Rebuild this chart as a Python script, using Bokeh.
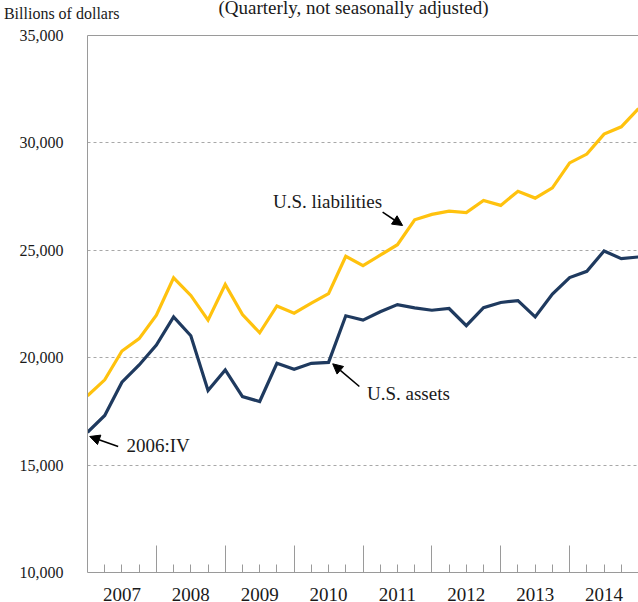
from bokeh.plotting import figure
from bokeh.layouts import column
from bokeh.models import (Range1d, FixedTicker, NumeralTickFormatter, Label, Arrow,
                          NormalHead, LinearAxis)
from bokeh.core.properties import value
from bokeh.embed import file_html
from bokeh.resources import INLINE

# ---- data ----
years = ["2007", "2008", "2009", "2010", "2011", "2012", "2013", "2014"]
quarters = ["2006:IV"] + [f"{y}:{q}" for y in years for q in ["I", "II", "III", "IV"]]

us_assets = [16530, 17310, 18860, 19660, 20590, 21900, 21020, 18470, 19430,
             18190, 17960, 19740, 19460, 19740, 19780, 21950, 21750, 22140,
             22470, 22320, 22210, 22290, 21490, 22330, 22570, 22660, 21900,
             22960, 23730, 24020, 24970, 24610, 24690]
us_liabilities = [18230, 18970, 20310, 20890, 21980, 23720, 22900, 21750, 23410,
                  22010, 21160, 22410, 22070, 22540, 22980, 24720, 24290, 24770,
                  25260, 26420, 26670, 26820, 26760, 27320, 27090, 27750, 27430,
                  27910, 29070, 29480, 30410, 30750, 31600]
y_ticks = [10000, 15000, 20000, 25000, 30000, 35000]

# ---- derived positions (quarter index since 2006:IV) ----
xq = list(range(len(quarters)))
n_q = 4 * len(years)
year_bounds = [4 * (i + 1) for i in range(len(years) - 1)]
quarter_bounds = [q for q in range(1, n_q) if q % 4 != 0]
year_centers = [4 * i + 2 for i in range(len(years))]

W = 638
LEFT = 86
HEAD_H = 24
TOP = 35 - HEAD_H
FRAME_H = 537
MAIN_BOTTOM = 10
FOOT_H = 602 - HEAD_H - TOP - FRAME_H - MAIN_BOTTOM
SERIF = "Liberation Serif"
AXIS_GRAY = "#9a9a9a"
TEXT = "#1a1a1a"
GOLD = "#FFC20E"
NAVY = "#1F3A5F"


def strip(height, x_range, y_range):
    f = figure(width=W, height=height, output_backend="svg", toolbar_location=None,
               x_range=x_range, y_range=y_range, x_axis_location=None,
               y_axis_location=None, min_border_left=LEFT, min_border_right=0,
               min_border_top=0, min_border_bottom=0, outline_line_color=None,
               background_fill_color="white", border_fill_color="white")
    f.grid.visible = False
    return f


# ---- header: unit note (as a left-axis label) and subtitle ----
head = strip(HEAD_H, Range1d(LEFT, W), Range1d(HEAD_H, 0))
unit_axis = LinearAxis(ticker=FixedTicker(ticks=[13.3]),
                       major_label_overrides={13.3: "Billions of dollars"},
                       major_label_standoff=-38, axis_line_color=None,
                       major_tick_line_color=None, minor_tick_line_color=None,
                       major_label_text_font=SERIF,
                       major_label_text_font_size="16px",
                       major_label_text_color=TEXT)
head.add_layout(unit_axis, "left")
head.text(x=[352.5], y=[7], text=["(Quarterly, not seasonally adjusted)"],
          text_align="center", text_baseline="middle", text_font=value(SERIF),
          text_font_size="19px", text_color=TEXT)

# ---- main plot ----
p = figure(width=W, height=TOP + FRAME_H + MAIN_BOTTOM, output_backend="svg",
           toolbar_location=None,
           x_range=Range1d(0, n_q), y_range=Range1d(10000, 35000),
           min_border_left=LEFT, min_border_right=0, min_border_top=TOP,
           min_border_bottom=MAIN_BOTTOM, outline_line_color=None,
           background_fill_color="white", border_fill_color="white")

xa = p.xaxis[0]
xa.ticker = FixedTicker(ticks=year_bounds, minor_ticks=quarter_bounds)
xa.major_label_overrides = {t: "" for t in year_bounds}
xa.major_label_text_font_size = "0px"
xa.major_label_standoff = 0
xa.major_tick_in = 27
xa.major_tick_out = 0
xa.minor_tick_in = 8
xa.minor_tick_out = 0
xa.axis_line_color = AXIS_GRAY
xa.major_tick_line_color = AXIS_GRAY
xa.minor_tick_line_color = AXIS_GRAY
p.xgrid.grid_line_color = None

ya = p.yaxis[0]
ya.ticker = FixedTicker(ticks=y_ticks)
ya.formatter = NumeralTickFormatter(format="0,0")
ya.major_tick_in = 0
ya.major_tick_out = 0
ya.minor_tick_line_color = None
ya.major_label_standoff = 24
ya.major_label_text_font = SERIF
ya.major_label_text_font_size = "16px"
ya.major_label_text_color = TEXT
ya.axis_line_color = AXIS_GRAY
p.ygrid.ticker = FixedTicker(ticks=y_ticks[1:-1])
p.ygrid.grid_line_dash = "3 3"
p.ygrid.grid_line_color = "#a8a8a8"
p.ygrid.grid_line_width = 1

top = LinearAxis(axis_line_color=AXIS_GRAY, major_tick_line_color=None,
                 minor_tick_line_color=None, major_label_text_font_size="0px",
                 major_label_standoff=0, ticker=FixedTicker(ticks=[]))
p.add_layout(top, "above")

p.line(xq, us_liabilities, line_color=GOLD, line_width=3.2, line_join="miter")
p.line(xq, us_assets, line_color=NAVY, line_width=3.2, line_join="miter")


def note(x, y, txt):
    p.add_layout(Label(x=x, y=y, text=txt, text_align="left",
                       text_baseline="middle", text_font=SERIF,
                       text_font_size="19px", text_color=TEXT))


def arrow(x0, y0, x1, y1):
    p.add_layout(Arrow(end=NormalHead(size=10, fill_color="black",
                                      line_color="black"),
                       x_start=x0, y_start=y0, x_end=x1, y_end=y1,
                       line_color="black", line_width=1.6))


note(10.77, 27295, "U.S. liabilities")
arrow(17.14, 26774, 18.30, 26155)
note(16.23, 18333, "U.S. assets")
arrow(15.79, 18659, 14.24, 19716)
note(2.26, 15912, quarters[0])
arrow(1.78, 15866, 0.13, 16331)

# ---- footer (year labels, same x scale as the plot) ----
foot = strip(FOOT_H, p.x_range, Range1d(FOOT_H, 0))
foot.text(x=year_centers, y=[12] * len(years), text=years, text_align="center",
          text_baseline="middle", text_font=value(SERIF), text_font_size="19px",
          text_color=TEXT)

layout = column(head, p, foot, spacing=0)
open("out.html", "w").write(file_html(layout, INLINE))
